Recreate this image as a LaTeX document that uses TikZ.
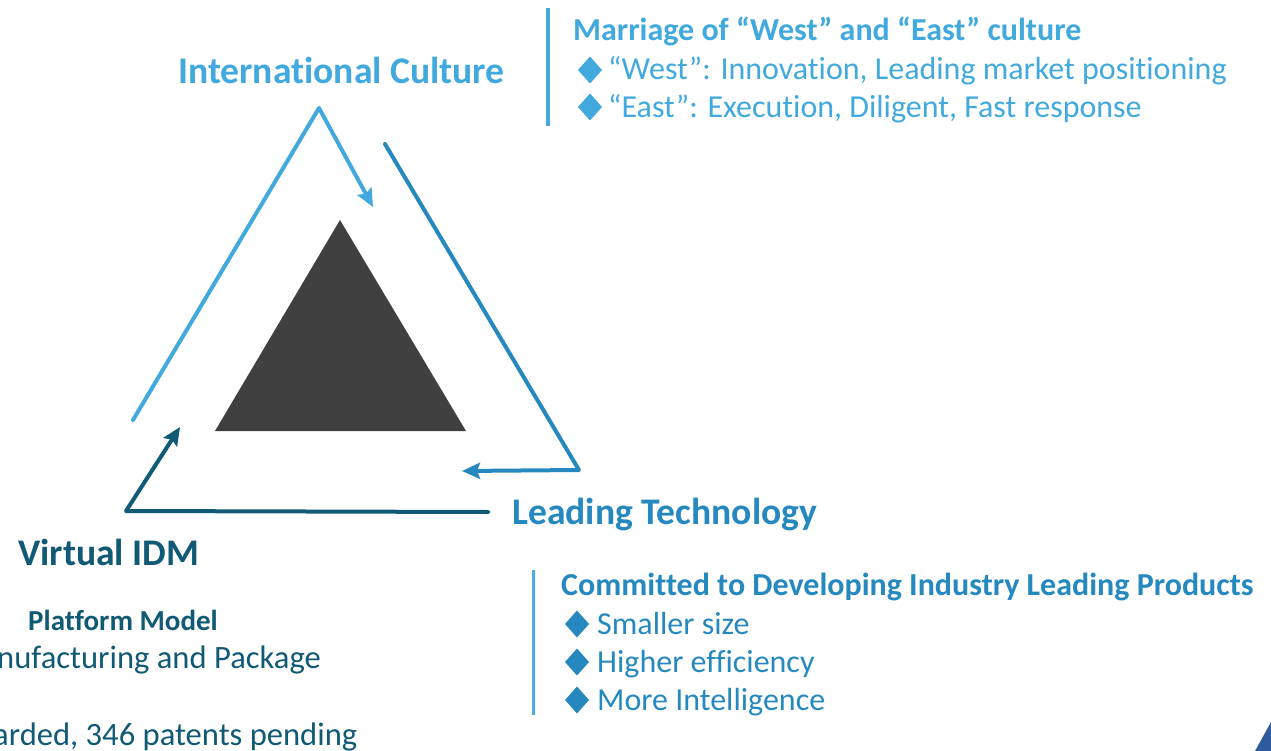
\documentclass[tikz,border=0pt]{standalone}
\usepackage{fontspec}
\setmainfont{Carlito}[Ligatures={NoCommon}]
\usetikzlibrary{arrows.meta}
\definecolor{cLight}{HTML}{41A9DD}
\definecolor{cMid}{HTML}{2589C0}
\definecolor{cDark}{HTML}{115A75}
\definecolor{cBar}{HTML}{4AAEE0}
\definecolor{cTri}{HTML}{404040}
\definecolor{cCorner}{HTML}{2E5A9E}
\tikzset{
  heading/.style={anchor=base west, inner sep=0pt, font=\fontsize{37.6}{40}\selectfont\bfseries},
  subhead/.style={anchor=base west, inner sep=0pt, font=\fontsize{32}{34}\selectfont\bfseries},
  subheadsmall/.style={anchor=base west, inner sep=0pt, font=\fontsize{29}{31}\selectfont\bfseries},
  body/.style={anchor=base west, inner sep=0pt, font=\fontsize{32}{34}\selectfont},
  bodyleft/.style={anchor=base west, inner sep=0pt, font=\fontsize{32.6}{35}\selectfont},
  loop/.style={line width=4pt, line cap=round, line join=round, -{Stealth[length=18pt,width=16pt,inset=3pt]}},
  bar/.style={line width=4pt},
}
\newcommand{\bulletdiamond}[3]{\fill[#3] (#1-12,-#2) -- (#1,-#2+13.5) -- (#1+12,-#2) -- (#1,-#2-13.5) -- cycle;}
\begin{document}
\begin{tikzpicture}[x=1pt,y=1pt]
\useasboundingbox (0,0) rectangle (1271,-751);
\clip (0,0) rectangle (1271,-751);
% central triangle
\fill[cTri] (340,-220) -- (215,-431) -- (466,-431) -- cycle;
% corner decoration
\fill[cCorner] (1271,-722) -- (1271,-751) -- (1255,-751) -- cycle;
% loops
\coordinate (l1) at (133,-420);
\coordinate (l2) at (319,-108);
\coordinate (l3) at (373,-207);
\draw[loop, cLight] (l1) -- (l2) -- (l3);
\coordinate (m1) at (385,-144);
\coordinate (m2) at (579,-470);
\coordinate (m3) at (462,-471);
\draw[loop, cMid] (m1) -- (m2) -- (m3);
\coordinate (d1) at (488,-512);
\coordinate (d2) at (126,-511);
\coordinate (d3) at (180,-427);
\draw[loop, cDark] (d1) -- (d2) -- (d3);
% headings
\node[heading, text=cLight] (ic) at (178,-84) {International Culture};
\node[heading, text=cMid] (lt) at (512,-524) {Leading Technology};
\node[heading, text=cDark] (vi) at (18,-565) {Virtual IDM};
% top-right block
\draw[bar, cLight] (548,-8) -- (548,-126);
\node[subhead, text=cLight] (t1) at (573,-41) {Marriage of “West” and “East” culture};
\bulletdiamond{590}{70}{cLight}
\node[body, text=cLight] (t2) at (608,-80) {“West”: Innovation, Leading market positioning};
\bulletdiamond{590}{107}{cLight}
\node[body, text=cLight] (t3) at (608,-118) {“East”: Execution, Diligent, Fast response};
% bottom-right block
\draw[bar, cBar, line width=3pt] (533,-570) -- (533,-715);
\node[subhead, text=cMid] (b1) at (561,-595) {Committed to Developing Industry Leading Products};
\bulletdiamond{577}{624}{cMid}
\node[body, text=cMid] (b2) at (597,-634) {Smaller size};
\bulletdiamond{577}{662}{cMid}
\node[body, text=cMid] (b3) at (597,-672) {Higher efficiency};
\bulletdiamond{577}{700}{cMid}
\node[body, text=cMid] (b4) at (597,-710) {More Intelligence};
% bottom-left block
\node[subheadsmall, text=cDark] (v1) at (28,-630) {Platform Model};
\node[bodyleft, text=cDark] (v2) at (-3,-668) {nufacturing and Package};
\node[bodyleft, text=cDark] (v3) at (-7,-745) {arded, 346 patents pending};
\end{tikzpicture}
\end{document}
